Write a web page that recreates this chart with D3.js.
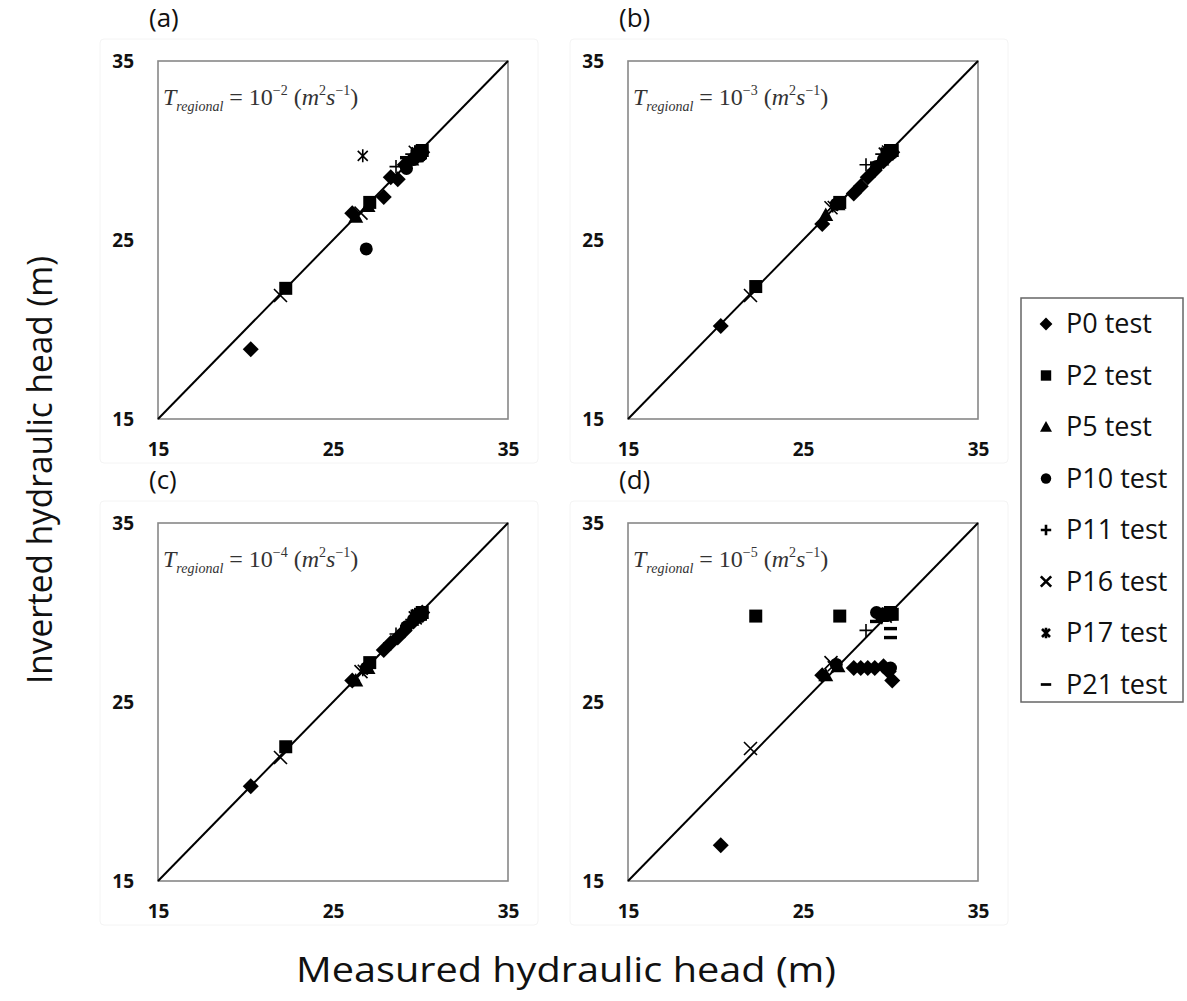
<!DOCTYPE html>
<html>
<head>
<meta charset="utf-8">
<script src="https://cdn.jsdelivr.net/npm/d3@7"></script>
<style>
  body { margin: 0; background: #fff; }
  text { font-family: "Open Sans", sans-serif; }
</style>
</head>
<body>
<svg width="1187" height="1001"></svg>
<script>
// measured heads (x) per test, shared by all four panels
const p0Measured  = [20.3, 26.1, 27.9, 28.3, 28.7, 29.1, 29.6, 29.9, 30.1];
const p2Measured  = [22.3, 27.1, 29.8, 30.0, 30.1];
const p5Measured  = [26.3, 27.0, 29.5, 29.9];
const p10Measured = [26.9, 29.2, 29.6, 30.0];
const p11Measured = [28.6, 29.5];
const p16Measured = [22.0, 26.6, 29.7];
const p17Measured = [26.7, 29.8];
const p21Measured = [29.2, 30.0, 30.0, 30.0];

// inverted heads (y) for each panel, T = 1e-2 .. 1e-5
const p0Inverted  = { a: [18.9, 26.5, 27.4, 28.5, 28.4, 29.2, 29.6, 29.8, 29.9],
                      b: [20.2, 25.9, 27.6, 28.0, 28.5, 28.9, 29.4, 29.7, 29.9],
                      c: [20.3, 26.2, 27.9, 28.3, 28.6, 29.0, 29.5, 29.8, 30.0],
                      d: [17.0, 26.5, 26.9, 26.9, 26.9, 26.9, 27.0, 26.7, 26.2] };
const p2Inverted  = { a: [22.3, 27.1, 29.7, 29.9, 30.0],
                      b: [22.4, 27.1, 29.8, 30.0, 30.0],
                      c: [22.5, 27.2, 29.8, 29.9, 30.0],
                      d: [29.8, 29.8, 29.9, 30.0, 29.9] };
const p5Inverted  = { a: [26.3, 26.9, 29.5, 29.8],
                      b: [26.4, 27.0, 29.5, 29.9],
                      c: [26.2, 26.9, 29.6, 29.9],
                      d: [26.5, 27.0, 29.8, 29.9] };
const p10Inverted = { a: [24.5, 29.0, 29.5, 29.7],
                      b: [27.0, 29.1, 29.5, 29.8],
                      c: [26.9, 29.2, 29.6, 29.8],
                      d: [27.1, 30.0, 29.9, 26.9] };
const p11Inverted = { a: [29.1, 29.8], b: [29.2, 29.8], c: [28.8, 29.6], d: [29.0, 29.7] };
const p16Inverted = { a: [21.9, 26.5, 29.9], b: [21.9, 26.8, 29.8],
                      c: [21.9, 26.7, 29.7], d: [22.4, 27.2, 29.8] };
const p17Inverted = { a: [29.7, 29.9], b: [26.9, 30.0], c: [26.8, 29.9], d: [27.0, 30.0] };
const p21Inverted = { a: [29.6, 29.6, 29.9, 30.2], b: [29.3, 29.7, 29.9, 30.1],
                      c: [29.2, 29.8, 30.0, 30.1], d: [29.5, 29.1, 28.6, 29.8] };

const tickValues = [15, 25, 35];
const exponents = { a: '\u22122', b: '\u22123', c: '\u22124', d: '\u22125' };

const series = [
  { name: 'P0 test',  shape: 'diamond',  xs: p0Measured,  ys: p0Inverted },
  { name: 'P2 test',  shape: 'square',   xs: p2Measured,  ys: p2Inverted },
  { name: 'P5 test',  shape: 'triangle', xs: p5Measured,  ys: p5Inverted },
  { name: 'P10 test', shape: 'circle',   xs: p10Measured, ys: p10Inverted },
  { name: 'P11 test', shape: 'plus',     xs: p11Measured, ys: p11Inverted },
  { name: 'P16 test', shape: 'cross',    xs: p16Measured, ys: p16Inverted },
  { name: 'P17 test', shape: 'star',     xs: p17Measured, ys: p17Inverted },
  { name: 'P21 test', shape: 'dash',     xs: p21Measured, ys: p21Inverted }
];

const svg = d3.select('svg');
const boxW = 350, boxH = 358;

// marker path for a shape at scale s
function markerPath(shape, s) {
  const h = 6.5 * s;
  switch (shape) {
    case 'diamond': return `M0,${-8*s}L${8*s},0L0,${8*s}L${-8*s},0Z`;
    case 'square': return `M${-h},${-h}H${h}V${h}H${-h}Z`;
    case 'triangle': return `M0,${-7.5*s}L${7.5*s},${6*s}H${-7.5*s}Z`;
    case 'circle': return d3.symbol(d3.symbolCircle, Math.PI * h * h)();
    case 'plus': return `M${-h},0H${h}M0,${-h}V${h}`;
    case 'cross': return `M${-h},${-h}L${h},${h}M${-h},${h}L${h},${-h}`;
    case 'star': return `M${-5*s},${-5*s}L${5*s},${5*s}M${-5*s},${5*s}L${5*s},${-5*s}M0,${-6.5*s}V${6.5*s}`;
    case 'dash': return `M${-h},0H${h}`;
  }
}
const filled = s => ['diamond', 'square', 'triangle', 'circle'].includes(s);

function drawMarker(sel, shape, s, w) {
  sel.append('path')
    .attr('d', markerPath(shape, s))
    .attr('fill', filled(shape) ? '#000' : 'none')
    .attr('stroke', '#000')
    .attr('stroke-width', shape === 'dash' ? 3.4 * s : (filled(shape) ? 0 : w));
}

const panels = [
  { key: 'a', left: 158, top: 61 },
  { key: 'b', left: 628, top: 61 },
  { key: 'c', left: 158, top: 523 },
  { key: 'd', left: 628, top: 523 }
];

panels.forEach(p => {
  // faint chart area
  svg.append('rect')
    .attr('x', p.left - 58).attr('y', p.top - 22)
    .attr('width', boxW + 88).attr('height', boxH + 66)
    .attr('rx', 4)
    .attr('fill', 'none').attr('stroke', '#f4f4f4');

  svg.append('text')
    .attr('x', p.left - 9).attr('y', p.top - 34)
    .attr('font-size', 26).attr('fill', '#111')
    .text(`(${p.key})`);

  const g = svg.append('g').attr('transform', `translate(${p.left},${p.top})`);
  const x = d3.scaleLinear().domain([15, 35]).range([0, boxW]);
  const y = d3.scaleLinear().domain([15, 35]).range([boxH, 0]);

  g.append('rect')
    .attr('width', boxW).attr('height', boxH)
    .attr('fill', '#fff').attr('stroke', '#888').attr('stroke-width', 1.6);

  const xAxis = g.append('g').attr('transform', `translate(0,${boxH})`)
    .call(d3.axisBottom(x).tickValues(tickValues).tickSize(0).tickPadding(24).tickFormat(d3.format('d')));
  const yAxis = g.append('g')
    .call(d3.axisLeft(y).tickValues(tickValues).tickSize(0).tickPadding(24).tickFormat(d3.format('d')));
  [xAxis, yAxis].forEach(ax => {
    ax.select('.domain').remove();
    ax.selectAll('text').attr('font-size', 19).attr('font-weight', 700)
      .attr('fill', '#111').attr('font-family', '"Open Sans", sans-serif');
  });

  // 1:1 line
  g.append('line')
    .attr('x1', x(15)).attr('y1', y(15)).attr('x2', x(35)).attr('y2', y(35))
    .attr('stroke', '#000').attr('stroke-width', 2);

  // annotation T_regional = 10^n (m^2 s^-1)
  const t = g.append('text')
    .attr('x', 5).attr('y', 44)
    .style('font-family', '"Liberation Serif", "Times New Roman", serif')
    .attr('font-size', 24).attr('fill', '#333');
  t.append('tspan').attr('font-style', 'italic').text('T');
  t.append('tspan').attr('font-style', 'italic').attr('font-size', 14).attr('dy', 6).text('regional');
  t.append('tspan').attr('dy', -6).text(' = 10');
  t.append('tspan').attr('font-size', 14).attr('dy', -10).text(exponents[p.key]);
  t.append('tspan').attr('dy', 10).text(' (');
  t.append('tspan').attr('font-style', 'italic').text('m');
  t.append('tspan').attr('font-size', 14).attr('dy', -10).text('2');
  t.append('tspan').attr('font-style', 'italic').attr('dy', 10).text('s');
  t.append('tspan').attr('font-size', 14).attr('dy', -10).text('\u22121');
  t.append('tspan').attr('dy', 10).text(')');

  series.forEach(s => {
    const pts = s.xs.map((v, i) => [v, s.ys[p.key][i]]);
    g.selectAll(null).data(pts).enter().append('g')
      .attr('transform', d => `translate(${x(d[0])},${y(d[1])})`)
      .each(function () { drawMarker(d3.select(this), s.shape, 1, 1.6); });
  });
});

// legend
svg.append('rect')
  .attr('x', 1021).attr('y', 298).attr('width', 162).attr('height', 404)
  .attr('fill', '#fff').attr('stroke', '#666').attr('stroke-width', 1.5);
const lg = svg.append('g').selectAll('g').data(series).enter().append('g')
  .attr('transform', (d, i) => `translate(1046,${324 + i * 51.5})`);
lg.each(function (d) { drawMarker(d3.select(this), d.shape, 0.8, 2.6); });
lg.append('text')
  .attr('x', 20).attr('dy', '0.35em')
  .attr('font-size', 27).attr('fill', '#111')
  .text(d => d.name);

// axis titles
svg.append('text')
  .attr('x', 566).attr('y', 982)
  .attr('text-anchor', 'middle').attr('font-size', 35).attr('fill', '#111')
  .attr('textLength', 540).attr('lengthAdjust', 'spacingAndGlyphs')
  .text('Measured hydraulic head (m)');
svg.append('text')
  .attr('transform', 'translate(52,470) rotate(-90)')
  .attr('text-anchor', 'middle').attr('font-size', 35).attr('fill', '#111')
  .attr('textLength', 428).attr('lengthAdjust', 'spacingAndGlyphs')
  .text('Inverted hydraulic head (m)');
</script>
</body>
</html>
